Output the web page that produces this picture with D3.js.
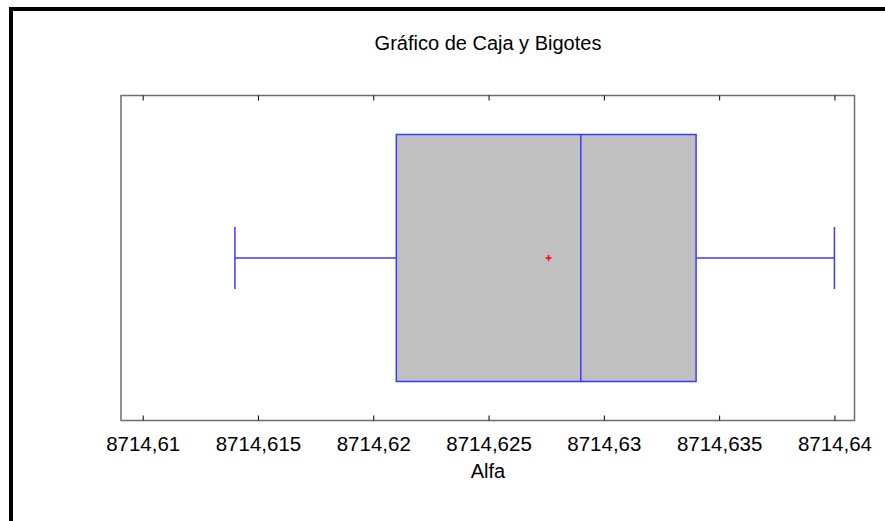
<!DOCTYPE html>
<html>
<head>
<meta charset="utf-8">
<script src="https://cdn.jsdelivr.net/npm/d3@7"></script>
<style>
  body { margin: 0; background: #fff; }
  svg { display: block; font-family: "Liberation Sans", Arial, sans-serif; }
</style>
</head>
<body>
<svg></svg>
<script>
// box plot summary for Alfa
const stats = [8714.614, 8714.621, 8714.629, 8714.634, 8714.640]; // min, q1, median, q3, max
const meanVal = [8714.6276];
const tickValues = [8714.61, 8714.615, 8714.62, 8714.625, 8714.63, 8714.635, 8714.64];
const domainX = [8714.60906, 8714.64087];

const W = 885, H = 521;
const plot = { left: 121, top: 95.5, right: 854.5, bottom: 420.5 };

const svg = d3.select('svg').attr('width', W).attr('height', H);

// outer black frame (runs off right and bottom)
svg.append('rect')
   .attr('x', 11).attr('y', 9)
   .attr('width', W + 20).attr('height', H + 20)
   .attr('fill', 'none').attr('stroke', '#000').attr('stroke-width', 4);

const x = d3.scaleLinear().domain(domainX).range([plot.left, plot.right]);
const y = d3.scaleLinear().domain([0, 1]).range([plot.bottom, plot.top]);

// plot frame
svg.append('rect')
   .attr('x', plot.left).attr('y', plot.top)
   .attr('width', plot.right - plot.left).attr('height', plot.bottom - plot.top)
   .attr('fill', 'none').attr('stroke', '#6e6e6e').attr('stroke-width', 1.5);

const fmt = d => d3.format('')(+d.toFixed(3)).replace('.', ',');

// bottom axis with inward ticks
const axB = svg.append('g')
   .attr('transform', `translate(0,${plot.bottom})`)
   .call(d3.axisBottom(x).tickValues(tickValues).tickSize(-5).tickPadding(16).tickFormat(fmt));
axB.select('.domain').remove();
axB.selectAll('line').attr('stroke', '#000');
axB.selectAll('text').attr('font-size', 20.5).attr('fill', '#000')
   .attr('font-family', '"Liberation Sans", Arial, sans-serif');

const axT = svg.append('g')
   .attr('transform', `translate(0,${plot.top})`)
   .call(d3.axisTop(x).tickValues(tickValues).tickSize(-5).tickFormat(''));
axT.select('.domain').remove();
axT.selectAll('line').attr('stroke', '#000');

const blue = '#3a3aff';
const yc = y(0.5);
const boxH = 247, capH = 62;

// whiskers
svg.append('line')
   .attr('x1', x(stats[0])).attr('x2', x(stats[1]))
   .attr('y1', yc).attr('y2', yc)
   .attr('stroke', blue).attr('stroke-width', 1.5);
svg.append('line')
   .attr('x1', x(stats[3])).attr('x2', x(stats[4]))
   .attr('y1', yc).attr('y2', yc)
   .attr('stroke', blue).attr('stroke-width', 1.5);
[stats[0], stats[4]].forEach(v => {
  svg.append('line')
     .attr('x1', x(v)).attr('x2', x(v))
     .attr('y1', yc - capH / 2).attr('y2', yc + capH / 2)
     .attr('stroke', blue).attr('stroke-width', 1.5);
});

// box
svg.append('rect')
   .attr('x', x(stats[1])).attr('y', yc - boxH / 2)
   .attr('width', x(stats[3]) - x(stats[1])).attr('height', boxH)
   .attr('fill', '#c0c0c0').attr('stroke', blue).attr('stroke-width', 1.5);

// median
svg.append('line')
   .attr('x1', x(stats[2])).attr('x2', x(stats[2]))
   .attr('y1', yc - boxH / 2).attr('y2', yc + boxH / 2)
   .attr('stroke', blue).attr('stroke-width', 1.5);

// mean marker
meanVal.forEach(m => {
  svg.append('path')
     .attr('d', `M${x(m) - 3},${yc}h6M${x(m)},${yc - 3}v6`)
     .attr('stroke', '#ff0000').attr('stroke-width', 1.5);
});

// titles
svg.append('text')
   .attr('x', 488).attr('y', 50)
   .attr('text-anchor', 'middle').attr('font-size', 20)
   .text('Gráfico de Caja y Bigotes');

svg.append('text')
   .attr('x', 488).attr('y', 478)
   .attr('text-anchor', 'middle').attr('font-size', 20)
   .text('Alfa');
</script>
</body>
</html>
